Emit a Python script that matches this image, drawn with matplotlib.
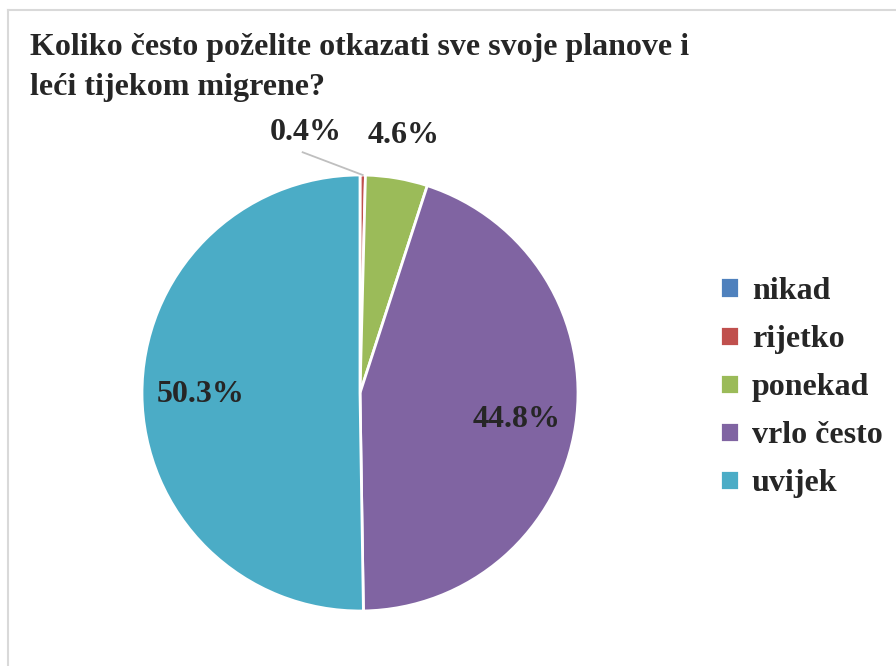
import matplotlib.pyplot as plt
from matplotlib.lines import Line2D
import numpy as np

categories = ["nikad", "rijetko", "ponekad", "vrlo često", "uvijek"]
values = [0.0, 0.4, 4.6, 44.8, 50.3]
colors = ["#4F81BD", "#C0504D", "#9BBB59", "#8064A2", "#4BACC6"]
title = "Koliko često poželite otkazati sve svoje planove i\nleći tijekom migrene?"

W, H = 896, 666
plt.rcParams['font.family'] = ['Liberation Serif', 'DejaVu Serif']
fig = plt.figure(figsize=(W / 100, H / 100), dpi=100)

# pie centre ~ (360, 393) px, radius ~218 px
cx, cy, r = 360, 393, 218
ax = fig.add_axes([(cx - r) / W, (H - cy - r) / H, 2 * r / W, 2 * r / H])
wedges, _ = ax.pie(values, colors=colors, startangle=90, counterclock=False,
                   wedgeprops=dict(edgecolor="white", linewidth=2))
ax.set_xlim(-1, 1)
ax.set_ylim(-1, 1)
ax.set_aspect("equal")

# label distance per slice (in radius units), and small angle tweaks
dist = {"rijetko": 1.22, "ponekad": 1.2, "vrlo često": 0.73, "uvijek": 0.73}
shift = {"rijetko": 12.5, "ponekad": 0.0, "vrlo često": -1.0, "uvijek": 0.0}
for w, cat, v in zip(wedges, categories, values):
    if v == 0:
        continue
    ang = np.deg2rad((w.theta1 + w.theta2) / 2 + shift[cat])
    d = dist[cat]
    x, y = d * np.cos(ang), d * np.sin(ang)
    ax.text(x, y, f"{v:.1f}%", ha="center", va="center", fontsize=23,
            fontweight="bold", color="#262626")
    if cat == "rijetko":
        tip = np.deg2rad((w.theta1 + w.theta2) / 2)
        ax.add_line(Line2D([x - 0.014, np.cos(tip)], [y - 0.09, np.sin(tip)],
                           color="#bfbfbf", lw=1.3, clip_on=False))

fig.text(30 / W, 1 - 33 / H, title, ha="left", va="top", fontsize=23,
         fontweight="bold", color="#262626", linespacing=1.48)

fig.legend(wedges, categories, loc="upper left", bbox_to_anchor=(691 / W, 1 - 248 / H),
           frameon=False, handlelength=0.6, handleheight=0.6,
           handletextpad=0.4, labelspacing=0.6,
           prop=dict(weight="bold", size=23))
for t in fig.legends[0].get_texts():
    t.set_color("#262626")

# light border of the chart area
fig.add_artist(Line2D([8 / W, 1], [1 - 10 / H, 1 - 10 / H], color="#d9d9d9", lw=1.5))
fig.add_artist(Line2D([8 / W, 8 / W], [0, 1 - 10 / H], color="#d9d9d9", lw=1.5))

fig.savefig("out.png", dpi=100)
